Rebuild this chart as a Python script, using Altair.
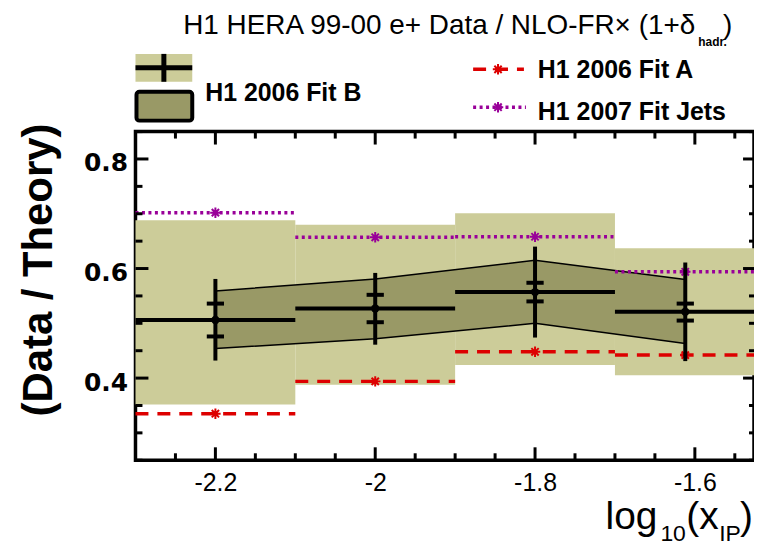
import altair as alt
import pandas as pd

# ---------------- data ----------------
bin_lo = [-2.3, -2.1, -1.9, -1.7]
bin_hi = [-2.1, -1.9, -1.7, -1.526]
x_center = [-2.2, -2.0, -1.8, -1.612]
data_val = [0.506, 0.527, 0.557, 0.521]
stat_lo = [0.476, 0.502, 0.540, 0.505]
stat_hi = [0.536, 0.552, 0.574, 0.536]
tot_lo = [0.432, 0.461, 0.474, 0.431]
tot_hi = [0.581, 0.592, 0.640, 0.611]
band_lo = [0.352, 0.388, 0.424, 0.405]
band_hi = [0.688, 0.680, 0.701, 0.637]
fitb_lo = [0.454, 0.472, 0.500, 0.463]
fitb_hi = [0.559, 0.581, 0.615, 0.580]
fit_a = [0.335, 0.394, 0.448, 0.442]
fit_jets = [0.702, 0.657, 0.658, 0.594]

x_major = [-2.2, -2.0, -1.8, -1.6]
x_minor = [-2.25, -2.15, -2.1, -2.05, -1.95, -1.9, -1.85, -1.75, -1.7, -1.65, -1.55]
y_major = [0.4, 0.6, 0.8]
y_minor = [0.25, 0.3, 0.35, 0.45, 0.5, 0.55, 0.65, 0.7, 0.75, 0.85]

df = pd.DataFrame(dict(lo=bin_lo, hi=bin_hi, xc=x_center, val=data_val,
                       slo=stat_lo, shi=stat_hi, tlo=tot_lo, thi=tot_hi,
                       blo=band_lo, bhi=band_hi, flo=fitb_lo, fhi=fitb_hi,
                       fa=fit_a, fj=fit_jets))

W, H = 621, 330
LIGHT = "#cccc99"
DARK = "#999966"
RED = "#dd0000"
MAG = "#990099"
AST = "M-1,0L1,0M0,-1L0,1M-0.7,-0.7L0.7,0.7M-0.7,0.7L0.7,-0.7"

xs = alt.Scale(domain=[-2.3, -1.526], nice=False, zero=False)
ys = alt.Scale(domain=[0.25, 0.85], nice=False, zero=False)
xax = alt.Axis(values=x_major, labelExpr="'' + datum.value", title=None)
yax = alt.Axis(values=y_major, labelExpr="'' + datum.value", title=None)


def X(f):
    return alt.X(f + ":Q", scale=xs, axis=xax)


def Y(f):
    return alt.Y(f + ":Q", scale=ys, axis=yax)


base = alt.Chart(df)

band = base.mark_rect(color=LIGHT).encode(x=X("lo"), x2="hi", y=Y("blo"), y2="bhi")
fitb = base.mark_area(color=DARK, opacity=1).encode(x=X("xc"), y=Y("flo"), y2="fhi")
fitb_up = base.mark_line(color="black", strokeWidth=1.5).encode(x=X("xc"), y=Y("fhi"))
fitb_dn = base.mark_line(color="black", strokeWidth=1.5).encode(x=X("xc"), y=Y("flo"))
jets = base.mark_rule(color=MAG, strokeWidth=3.5, strokeDash=[3, 3.5]).encode(
    x=X("lo"), x2="hi", y=Y("fj"))
fa = base.mark_rule(color=RED, strokeWidth=3.5, strokeDash=[13, 9]).encode(
    x=X("lo"), x2="hi", y=Y("fa"))
jets_pt = base.mark_point(shape=AST, size=110, filled=False, color=MAG, strokeWidth=2,
                          opacity=1).encode(x=X("xc"), y=Y("fj"))
fa_pt = base.mark_point(shape=AST, size=110, filled=False, color=RED, strokeWidth=2,
                        opacity=1).encode(x=X("xc"), y=Y("fa"))
hbar = base.mark_rule(color="black", strokeWidth=4).encode(x=X("lo"), x2="hi", y=Y("val"))
ebar = base.mark_rule(color="black", strokeWidth=4).encode(x=X("xc"), y=Y("tlo"), y2="thi")
st_lo = base.mark_point(shape="M-1,0L1,0", size=300, filled=False, color="black",
                        strokeWidth=4, opacity=1).encode(x=X("xc"), y=Y("slo"))
st_hi = base.mark_point(shape="M-1,0L1,0", size=300, filled=False, color="black",
                        strokeWidth=4, opacity=1).encode(x=X("xc"), y=Y("shi"))
dot = base.mark_point(shape="circle", size=70, filled=True, color="black",
                      opacity=1).encode(x=X("xc"), y=Y("val"))

# ----- inward ticks -----
dxM = pd.DataFrame({"v": x_major})
dxm = pd.DataFrame({"v": x_minor})
dyM = pd.DataFrame({"v": y_major})
dym = pd.DataFrame({"v": y_minor})
tk = dict(color="black", strokeWidth=3)
ticks = [
    alt.Chart(dxM).mark_rule(**tk).encode(x=X("v"), y=alt.value(H), y2=alt.value(H - 13)),
    alt.Chart(dxm).mark_rule(**tk).encode(x=X("v"), y=alt.value(H), y2=alt.value(H - 7)),
    alt.Chart(dxM).mark_rule(**tk).encode(x=X("v"), y=alt.value(0), y2=alt.value(13)),
    alt.Chart(dxm).mark_rule(**tk).encode(x=X("v"), y=alt.value(0), y2=alt.value(7)),
    alt.Chart(dyM).mark_rule(**tk).encode(y=Y("v"), x=alt.value(0), x2=alt.value(13)),
    alt.Chart(dym).mark_rule(**tk).encode(y=Y("v"), x=alt.value(0), x2=alt.value(7)),
    alt.Chart(dyM).mark_rule(**tk).encode(y=Y("v"), x=alt.value(W), x2=alt.value(W - 11)),
    alt.Chart(dym).mark_rule(**tk).encode(y=Y("v"), x=alt.value(W), x2=alt.value(W - 5)),
]

# ----- texts, legend -----
one = alt.Chart(pd.DataFrame({"a": [0]}))
HEL = "Liberation Sans"
NARROW = "Liberation Sans Narrow, Liberation Sans"


def txt(s, x, y, size, weight="normal", align="left", baseline="alphabetic", angle=0,
        font=HEL):
    kw = dict(text=s, fontSize=size, fontWeight=weight, align=align, baseline=baseline,
              font=font, color="black")
    if angle:
        kw["angle"] = angle
    return one.mark_text(**kw).encode(x=alt.value(x), y=alt.value(y))


texts = [
    txt("H1 HERA 99-00 e+ Data / NLO-FR\u00d7 (1+\u03b4", 562, -98, 28, align="right"),
    txt("hadr.", 565, -86, 12, weight="bold", font=NARROW),
    txt(")", 590, -98, 28),
    txt("(Data / Theory)", -97, 139, 42, weight="bold", align="center",
        baseline="middle", angle=270),
    txt("log", 472, 399, 39),
    txt("10", 527, 411, 23),
    txt("(x", 553, 399, 39),
    txt("IP", 586, 411, 23),
    txt(")", 607, 399, 39),
    txt("H1 2006 Fit B", 70, -31, 25, weight="bold"),
    txt("H1 2006 Fit A", 404, -54, 25, weight="bold"),
    txt("H1 2007 Fit Jets", 404, -12, 25, weight="bold"),
]

legend = [
    one.mark_rect(color=LIGHT).encode(x=alt.value(0), x2=alt.value(57),
                                      y=alt.value(-78), y2=alt.value(-50)),
    one.mark_rule(color="black", strokeWidth=5).encode(x=alt.value(0), x2=alt.value(57),
                                                       y=alt.value(-64)),
    one.mark_rule(color="black", strokeWidth=5).encode(x=alt.value(28.5),
                                                       y=alt.value(-78), y2=alt.value(-50)),
    one.mark_rect(fill=DARK, stroke="black", strokeWidth=4, cornerRadius=3).encode(
        x=alt.value(1), x2=alt.value(57), y=alt.value(-40), y2=alt.value(-11)),
    one.mark_rule(color=RED, strokeWidth=3.5, strokeDash=[13, 9]).encode(
        x=alt.value(339), x2=alt.value(390), y=alt.value(-62.5)),
    one.mark_point(shape=AST, size=110, filled=False, color=RED, strokeWidth=2,
                   opacity=1).encode(x=alt.value(364), y=alt.value(-62.5)),
    one.mark_rule(color=MAG, strokeWidth=3.5, strokeDash=[3, 3.5]).encode(
        x=alt.value(339), x2=alt.value(392), y=alt.value(-24.5)),
    one.mark_point(shape=AST, size=110, filled=False, color=MAG, strokeWidth=2,
                   opacity=1).encode(x=alt.value(364), y=alt.value(-24.5)),
]

chart = alt.layer(
    band, fitb, fitb_up, fitb_dn, jets, fa, jets_pt, fa_pt, hbar, ebar, st_lo, st_hi, dot,
    *ticks, *texts, *legend
).properties(
    width=W, height=H,
    autosize=alt.AutoSizeParams(type="none"),
    padding={"left": 128, "top": 123, "right": 0, "bottom": 84},
    background="white",
).configure_view(
    stroke="black", strokeWidth=3.5
).configure_axis(
    ticks=False, domain=False, grid=False, tickSize=0,
    labelColor="black", labelFont=HEL,
).configure_axisX(
    labelFontSize=25, labelPadding=10, labelFontWeight="normal",
).configure_axisY(
    labelFontSize=25, labelPadding=8, labelFontWeight="bold", labelOffset=4,
    labelFont="DejaVu Sans",
)

chart.save("out.html", embed_options={"renderer": "svg", "actions": False})
